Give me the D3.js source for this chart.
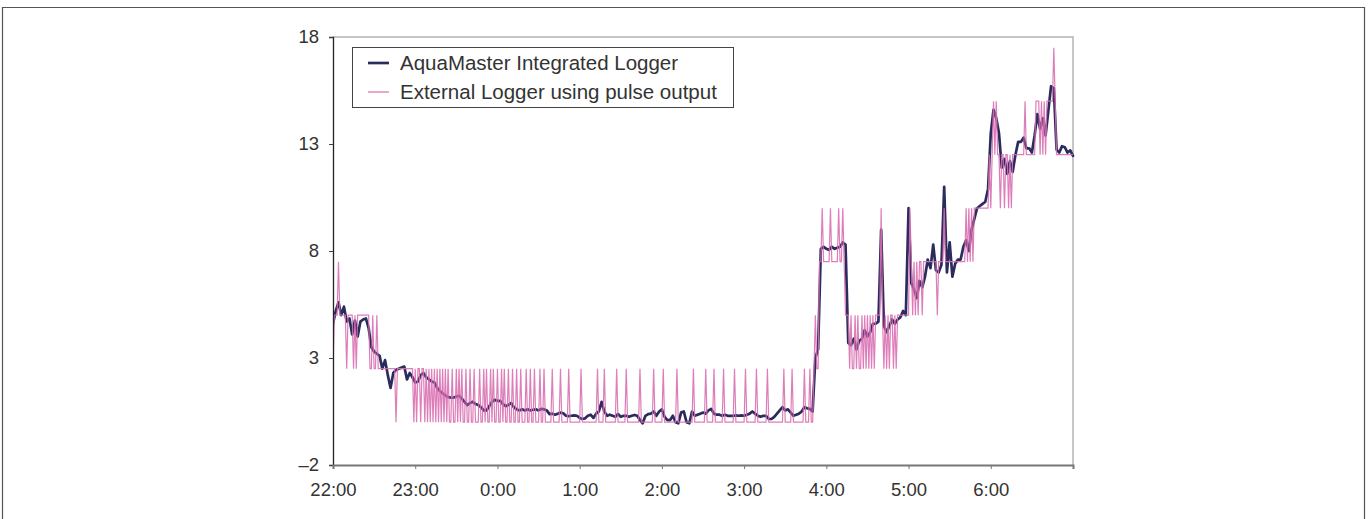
<!DOCTYPE html>
<html>
<head>
<meta charset="utf-8">
<script src="https://cdn.jsdelivr.net/npm/d3@7"></script>
<style>
  html, body { margin: 0; padding: 0; background: #fff; }
  svg { display: block; }
  text { font-family: "Liberation Sans", Arial, sans-serif; }
</style>
</head>
<body>
<svg id="chart" width="1372" height="519"></svg>
<script>
// ---------- data ----------
const seriesNames = ["AquaMaster Integrated Logger", "External Logger using pulse output"];
const xTickMinutes = [0, 60, 120, 180, 240, 300, 360, 420, 480];
const xTickLabels = ["22:00", "23:00", "0:00", "1:00", "2:00", "3:00", "4:00", "5:00", "6:00"];
const yTickValues = [-2, 3, 8, 13, 18];
const yTickLabels = ["\u20132", "3", "8", "13", "18"];
const timeSpanMinutes = [0, 540];          // 22:00 -> 7:00
const loggerIntervalMin = 2;               // AquaMaster sample interval
const pulseIntervalMin = 1;                // external logger sample interval

// AquaMaster integrated logger (every 2 min from 22:00)
const aquaMaster = [
  4.6,5.2,5.6,5.0,5.4,4.7,4.85,4.1,4.75,4.0,
  4.7,4.8,4.85,4.4,3.5,3.3,3.2,3.1,2.5,2.9,
  2.2,1.6,2.3,2.45,2.5,2.55,2.6,2.0,2.3,2.1,
  1.85,1.9,2.2,2.3,2.1,2.0,1.9,1.85,1.6,1.45,
  1.35,1.25,1.18,1.15,1.15,1.2,1.24,1.1,0.95,0.8,
  0.9,0.95,0.85,0.8,0.7,0.55,0.55,0.75,0.95,1.05,
  1.0,1.0,0.85,0.75,0.8,0.9,0.7,0.6,0.55,0.6,
  0.55,0.6,0.55,0.58,0.6,0.55,0.62,0.6,0.55,0.38,
  0.4,0.35,0.4,0.45,0.42,0.3,0.28,0.3,0.32,0.3,
  0.2,0.15,0.18,0.3,0.35,0.2,0.4,0.5,0.95,0.5,
  0.3,0.35,0.3,0.25,0.38,0.25,0.3,0.3,0.25,0.3,
  0.34,0.3,0.1,-0.05,0.3,0.38,0.4,0.5,0.3,0.5,
  0.6,0.25,0.1,0.1,0.3,0.0,-0.05,0.45,0.5,0.0,
  -0.05,0.5,0.3,0.35,0.4,0.45,0.4,0.55,0.62,0.4,
  0.35,0.35,0.3,0.35,0.3,0.3,0.3,0.32,0.3,0.32,
  0.3,0.35,0.4,0.5,0.4,0.3,0.25,0.3,0.3,0.15,
  0.15,0.25,0.4,0.55,0.7,0.55,0.6,0.45,0.3,0.35,
  0.4,0.5,0.7,0.65,0.62,0.5,3.0,3.4,8.1,8.2,
  8.1,8.05,8.2,8.1,8.15,8.2,8.4,8.3,3.7,3.6,
  3.9,3.4,3.8,3.9,4.3,4.0,4.2,4.6,4.6,4.7,
  9.0,4.5,4.2,4.5,4.8,4.6,4.8,4.9,5.2,5.0,
  10.0,6.5,6.2,5.8,6.6,6.3,6.8,7.6,7.2,8.3,
  7.1,7.0,7.35,11.0,7.0,8.4,6.8,7.4,7.6,7.6,
  8.2,8.5,8.0,9.0,9.5,10.0,10.1,10.2,10.3,10.9,
  13.5,14.6,14.2,13.5,11.9,12.3,11.6,12.2,11.7,12.5,
  13.1,13.1,13.3,12.8,12.8,12.6,13.4,14.4,13.7,14.2,
  13.4,14.55,15.7,15.6,12.74,12.6,12.9,12.85,12.6,12.7,
  12.45
];

// External logger using pulse output (every 1 min from 22:00)
const externalPulse = [
  2.5,5,5,5,7.5,5,5,5,5,5,
  2.5,5,5,5,5,2.5,5,2.5,5,5,
  5,5,5,5,5,5,5,2.5,2.5,5,
  2.5,2.5,5,2.5,2.5,2.5,2.5,2.5,2.5,2.5,
  2.5,2.5,2.5,2.5,2.5,2.5,0,2.5,2.5,2.5,
  2.5,2.5,2.5,2.5,2.5,2.5,2.5,2.5,2.5,0,
  2.5,0,2.5,2.5,0,2.5,2.5,0,2.5,0,
  2.5,0,2.5,0,2.5,0,2.5,0,2.5,0,
  2.5,0,2.5,0,2.5,0,0,2.5,0,0,
  2.5,0,2.5,0,2.5,0,0,2.5,0,0,
  2.5,0,0,2.5,0,0,0,2.5,0,0,
  2.5,0,2.5,0,0,2.5,0,2.5,0,0,
  2.5,0,0,2.5,0,2.5,0,0,2.5,0,
  0,2.5,0,0,2.5,0,0,2.5,0,0,
  0,2.5,0,0,2.5,0,0,2.5,0,0,
  0,2.5,0,0,2.5,0,0,0,0,0,
  2.5,0,0,0,0,0,2.5,0,0,0,
  0,0,2.5,0,0,0,0,0,0,0,
  0,2.5,0,0,0,0,0,0,0,0,
  0,0,0,2.5,0,0,0,0,2.5,0,
  0,0,0,0,0,0,0,2.5,0,0,
  0,0,0,0,2.5,0,0,0,0,0,
  0,0,0,0,2.5,0,0,0,0,0,
  0,0,0,0,2.5,0,0,0,0,0,
  0,2.5,0,0,0,0,0,0,0,0,
  0,2.5,0,0,0,0,0,0,0,0,
  0,0,0,2.5,0,0,0,0,0,0,
  0,0,2.5,0,0,0,0,0,2.5,0,
  0,0,0,0,0,2.5,0,0,0,0,
  0,0,0,2.5,0,0,0,0,0,0,
  0,2.5,0,0,0,0,0,0,0,2.5,
  0,0,0,0,0,0,0,2.5,0,0,
  0,0,0,0,0,0,0,0,0,2.5,
  0,0,0,0,0,2.5,0,0,0,0,
  0,0,0,0,2.5,0,0,0,2.5,0,
  0,2.5,5,2.5,2.5,7.5,7.5,10,7.5,7.5,
  7.5,7.5,7.5,10,7.5,7.5,7.5,7.5,7.5,10,
  7.5,7.5,10,7.5,5,5,5,2.5,5,2.5,
  2.5,5,2.5,5,2.5,2.5,5,2.5,5,2.5,
  5,2.5,5,2.5,5,2.5,5,5,5,5,
  10,5,2.5,5,2.5,5,2.5,5,5,2.5,
  5,2.5,5,5,5,5,5,5,5,5,
  5,10,7.5,5,7.5,5,7.5,5,7.5,7.5,
  5,7.5,7.5,7.5,7.5,7.5,7.5,7.5,7.5,7.5,
  7.5,5,7.5,7.5,7.5,7.5,10,7.5,7.5,7.5,
  7.5,7.5,7.5,7.5,7.5,7.5,7.5,7.5,7.5,7.5,
  7.5,7.5,10,7.5,10,7.5,10,7.5,10,10,
  10,10,10,10,10,10,10,10,10,12.5,
  10,12.5,15,12.5,15,12.5,12.5,10,12.5,12.5,
  10,12.5,12.5,10,12.5,10,12.5,12.5,12.5,12.5,
  12.5,12.5,12.5,12.5,12.5,15,12.5,12.5,12.5,12.5,
  12.5,12.5,12.5,15,15,15,12.5,15,12.5,15,
  12.5,15,15,15,15,15,17.5,15,12.5,12.5,
  12.5,12.5,12.5,12.5,12.5,12.5,12.5,12.5,12.5,12.5,
  12.5
];

// ---------- drawing ----------
const navy = "#2a2c5e";
const pink = "#d96fb1";
const svg = d3.select("#chart");
const W = 1372, H = 519;
const plot = { left: 333, right: 1073, top: 37, bottom: 465 };

// outer frame
svg.append("path")
  .attr("d", `M2.5,${H} V7.5 H1364.5 V${H}`)
  .attr("fill", "none").attr("stroke", "#555").attr("stroke-width", 1.2);

const x = d3.scaleLinear().domain(timeSpanMinutes).range([plot.left, plot.right]);
const y = d3.scaleLinear().domain([-2, 18]).range([plot.bottom, plot.top]);

// plot frame (top + right light grey)
svg.append("path")
  .attr("d", `M${plot.left},${plot.top} H${plot.right} V${plot.bottom}`)
  .attr("fill", "none").attr("stroke", "#b4b4b4").attr("stroke-width", 1.5);

// series lines
svg.append("clipPath").attr("id", "clip")
  .append("rect").attr("x", plot.left).attr("y", plot.top - 2)
  .attr("width", plot.right - plot.left + 3).attr("height", plot.bottom - plot.top + 2);

const g = svg.append("g").attr("clip-path", "url(#clip)");
const lineA = d3.line().x((d, i) => x(timeSpanMinutes[0] + i * loggerIntervalMin)).y(d => y(d));
const lineP = d3.line().x((d, i) => x(timeSpanMinutes[0] + i * pulseIntervalMin)).y(d => y(d));

g.append("path").datum(aquaMaster).attr("d", lineA)
  .attr("fill", "none").attr("stroke", navy).attr("stroke-width", 2.7)
  .attr("stroke-linejoin", "round").attr("stroke-linecap", "round");
g.append("path").datum(externalPulse).attr("d", lineP)
  .attr("fill", "none").attr("stroke", pink).attr("stroke-width", 1.2)
  .attr("stroke-opacity", 0.9).attr("stroke-linejoin", "miter");

// axes
const yAxis = d3.axisLeft(y).tickValues(yTickValues)
  .tickFormat((d, i) => yTickLabels[i]).tickSize(4).tickPadding(10);
const gy = svg.append("g").attr("transform", `translate(${plot.left},0)`).call(yAxis);
gy.select(".domain").attr("stroke", "#222").attr("stroke-width", 1.3);
gy.selectAll(".tick line").attr("stroke", "#444");
gy.selectAll(".tick text").attr("font-size", 18.5).attr("fill", "#333")
  .attr("font-family", "Liberation Sans, Arial, sans-serif");

const xAxis = d3.axisBottom(x).tickValues(xTickMinutes)
  .tickFormat((d, i) => xTickLabels[i]).tickSize(4).tickPadding(14);
const gx = svg.append("g").attr("transform", `translate(0,${plot.bottom})`).call(xAxis);
gx.select(".domain").attr("stroke", "#777").attr("stroke-width", 2);
gx.selectAll(".tick line").attr("stroke", "#777");
gx.selectAll(".tick text").attr("font-size", 18.5).attr("fill", "#333")
  .attr("font-family", "Liberation Sans, Arial, sans-serif");

// legend
const lg = svg.append("g");
lg.append("rect").attr("x", 352.5).attr("y", 47.5).attr("width", 381).attr("height", 60)
  .attr("fill", "#fff").attr("stroke", "#444").attr("stroke-width", 1);
const legendItems = [
  { name: seriesNames[0], color: navy, w: 2.7 },
  { name: seriesNames[1], color: pink, w: 1.2 }
];
legendItems.forEach((it, i) => {
  const cy = 63 + i * 29;
  lg.append("line").attr("x1", 368).attr("x2", 389).attr("y1", cy).attr("y2", cy)
    .attr("stroke", it.color).attr("stroke-width", it.w);
  lg.append("text").attr("x", 400).attr("y", cy + 7).attr("font-size", 20.5)
    .attr("fill", "#333").text(it.name);
});
</script>
</body>
</html>
